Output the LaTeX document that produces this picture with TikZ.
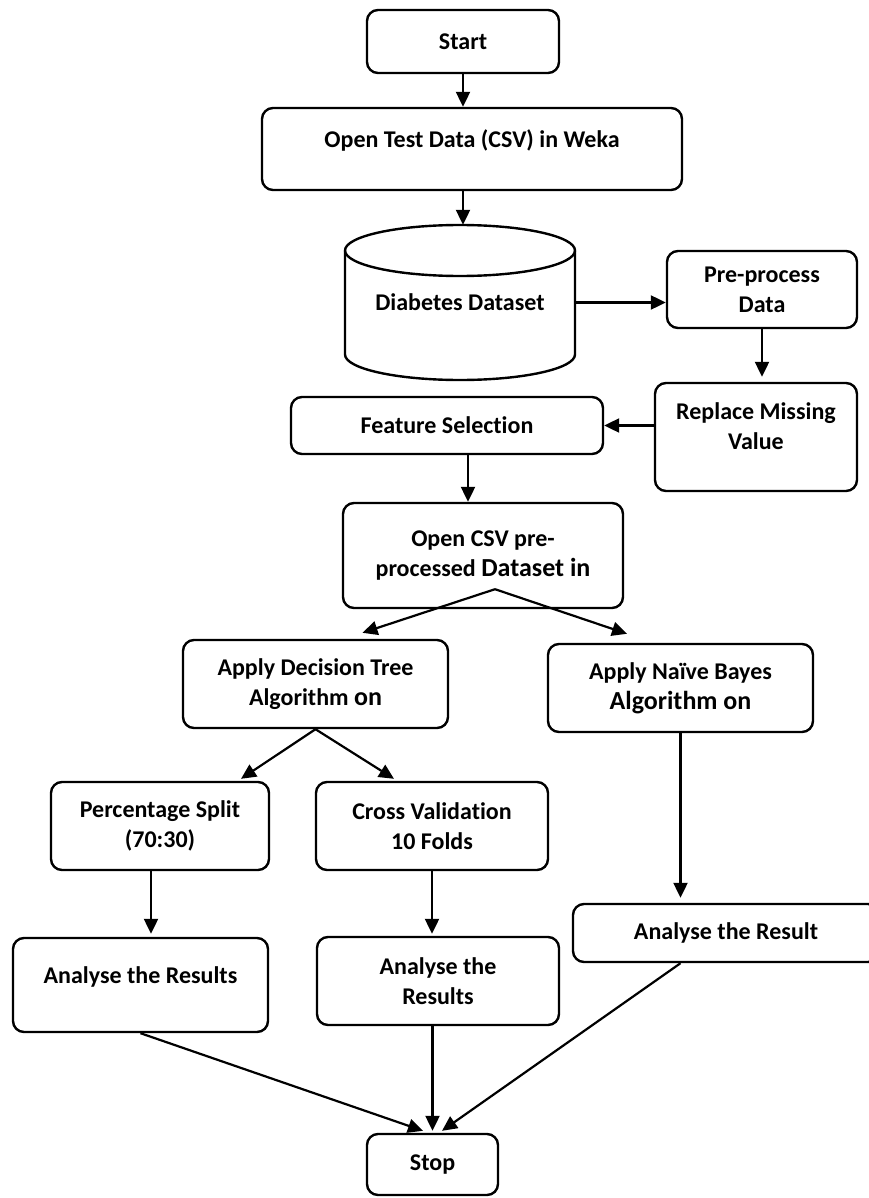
\documentclass[tikz,border=0pt]{standalone}
\usepackage{fontspec}
\setmainfont{Carlito}[Ligatures=NoCommon]
\usetikzlibrary{arrows.meta}
\newcommand{\bigpart}[1]{{\fontsize{26}{29}\selectfont #1}}

\begin{document}
\begin{tikzpicture}[x=1pt,y=-1pt,
	box/.style={draw, line width=2.4pt, rounded corners=11pt, align=center, inner sep=2pt},
	arr/.style={line width=2.2pt, -{Triangle[length=15pt,width=14pt]}},
	every node/.style={font=\bfseries\fontsize{24}{30}\selectfont}]
	\useasboundingbox (0,0) rectangle (868,1198);
	% top part
	\node[box, minimum width=192pt, minimum height=63pt] (start) at (463,41.5) {Start};
	\node[box, minimum width=420pt, minimum height=82pt, text depth=20pt] (opentest) at (472,149) {Open Test Data (CSV) in Weka};
	\node[minimum width=230pt, minimum height=155pt] (data) at (460,302.5) {Diabetes Dataset};
	\draw[line width=2.4pt] (460,250.5) ellipse[x radius=115, y radius=25.5];
	\draw[line width=2.4pt] (345,250.5) -- (345,354.5) arc[start angle=180, end angle=0, x radius=115, y radius=25.5] -- (575,250.5);
	\node[box, minimum width=190pt, minimum height=77pt] (preprocess) at (762,289.5) {Pre-process\\Data};
	\node[box, minimum width=202pt, minimum height=108pt, text depth=22pt] (replace) at (756,437) {Replace Missing\\Value};
	\node[box, minimum width=312pt, minimum height=57pt] (feature) at (447,425.5) {Feature Selection};
	\node[box, minimum width=280pt, minimum height=105pt] (opencsv) at (483,555.5) {Open CSV pre-\\processed \bigpart{Dataset in}};
	% algorithms
	\node[box, minimum width=265pt, minimum height=88pt] (dtree) at (315.5,684) {Apply Decision Tree\\Algorithm \bigpart{on}};
	\node[box, minimum width=265pt, minimum height=88pt] (nbayes) at (680.5,688) {Apply Na\"ive Bayes\\\bigpart{Algorithm on}};
	\node[box, minimum width=218pt, minimum height=88pt] (psplit) at (160,826) {Percentage Split\\(70:30)};
	\node[box, minimum width=232pt, minimum height=88pt] (crossval) at (432,826) {Cross Validation\\10 Folds};
	% results
	\node[box, minimum width=255pt, minimum height=94pt, text depth=20pt] (res1) at (140.5,985) {Analyse the Results};
	\node[box, minimum width=242pt, minimum height=88pt] (res2) at (438,981) {Analyse the\\Results};
	\node[box, minimum width=306pt, minimum height=58pt] (res3) at (726,933) {Analyse the Result};
	\node[box, minimum width=131pt, minimum height=61pt] (stop) at (432.5,1164.5) {Stop};
	\coordinate (split1) at ([xshift=12pt,yshift=20pt]opencsv.south);

	\draw[arr] (start.south) -- (start.south |- opentest.north);
	\draw[arr] (opentest.south -| start) -- (data.north -| start);
	\draw[arr] (data.east) -- (data.east -| preprocess.west);
	\draw[arr] (preprocess.south) -- ([yshift=5pt]preprocess.south |- replace.north);
	\draw[arr] (replace.west |- feature.east) -- (feature.east);
	\draw[arr] ([xshift=21pt]feature.south) -- ([xshift=21pt]feature.south |- opencsv.north);
	\draw[arr] (split1) -- ([xshift=47pt,yshift=6pt]dtree.north);
	\draw[arr] (split1) -- ([xshift=-53.5pt,yshift=9pt]nbayes.north);
	\draw[arr] (dtree.south) -- ([xshift=81pt,yshift=2pt]psplit.north);
	\draw[arr] (dtree.south) -- ([xshift=-38pt,yshift=2pt]crossval.north);
	\draw[arr] ([xshift=-9pt]psplit.south) -- ([xshift=-9pt,yshift=3pt]psplit.south |- res1.north);
	\draw[arr] (crossval.south) -- ([yshift=2pt]crossval.south |- res2.north);
	\draw[arr] (nbayes.south) -- ([yshift=5pt]nbayes.south |- res3.north);
	\draw[arr] (res1.south) -- ([xshift=-9.5pt,yshift=2pt]stop.north);
	\draw[arr] (res2.south -| stop.north) -- ([yshift=2pt]stop.north);
	\draw[arr] (res3.south -| nbayes.south) -- ([xshift=9.5pt,yshift=2pt]stop.north);
\end{tikzpicture}
\end{document}
